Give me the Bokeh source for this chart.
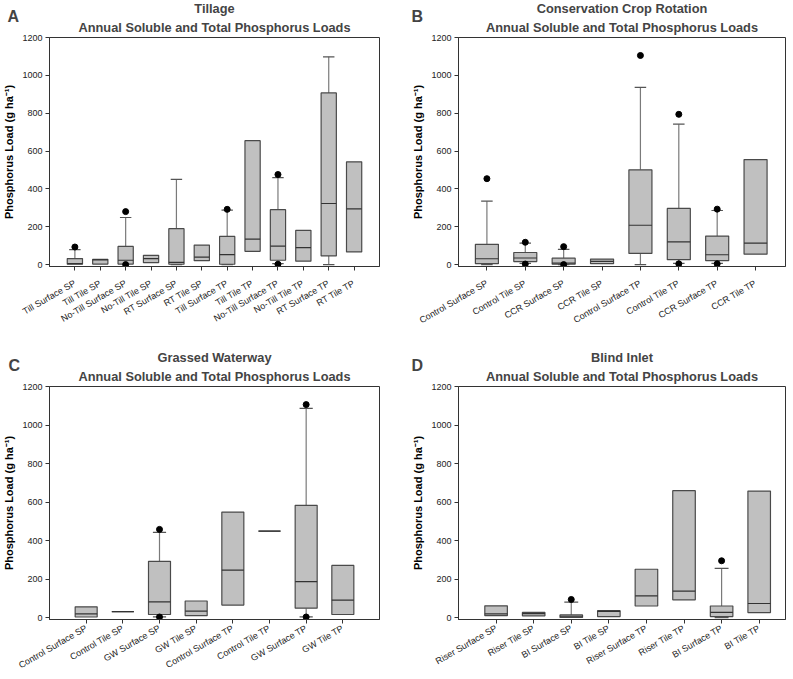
import math
from bokeh.plotting import figure
from bokeh.models import Range1d, FixedTicker, ColumnDataSource, Title
from bokeh.layouts import column, row
from bokeh.embed import file_html
from bokeh.resources import INLINE

# ---------------- data ----------------
A_cats = ["Till Surface SP", "Till Tile SP", "No-Till Surface SP", "No-Till Tile SP",
          "RT Surface SP", "RT Tile SP", "Till Surface TP", "Till Tile TP",
          "No-Till Surface TP", "No-Till Tile TP", "RT Surface TP", "RT Tile TP"]
A_q1 = [2, 3, 3, 10, 2, 21, 2, 70, 23, 18, 46, 67]
A_med = [5, 25, 23, 32, 12, 40, 53, 135, 98, 90, 323, 295]
A_q3 = [32, 28, 96, 49, 190, 103, 149, 655, 290, 181, 907, 543]
A_wlo = [None, None, None, None, 0, None, 0, None, 5, None, 0, None]
A_whi = [79, None, 249, None, 450, None, 288, None, 460, None, 1098, None]
A_out_cat = ["Till Surface SP", "No-Till Surface SP", "No-Till Surface SP",
             "Till Surface TP", "No-Till Surface TP", "No-Till Surface TP"]
A_out_val = [93, 280, 0, 292, 476, 2]

B_cats = ["Control Surface SP", "Control Tile SP", "CCR Surface SP", "CCR Tile SP",
          "Control Surface TP", "Control Tile TP", "CCR Surface TP", "CCR Tile TP"]
B_q1 = [5, 16, 2, 5, 59, 26, 21, 55]
B_med = [31, 35, 8, 17, 208, 120, 52, 113]
B_q3 = [107, 64, 34, 29, 501, 297, 151, 555]
B_wlo = [0, 6, 0, None, 0, 6, 6, None]
B_whi = [335, 113, 81, None, 936, 742, 286, None]
B_out_cat = ["Control Surface SP", "Control Tile SP", "Control Tile SP", "CCR Surface SP",
             "CCR Surface SP", "Control Surface TP", "Control Tile TP", "Control Tile TP",
             "CCR Surface TP", "CCR Surface TP"]
B_out_val = [454, 118, 3, 95, 0, 1105, 794, 4, 293, 4]

C_cats = ["Control Surface SP", "Control Tile SP", "GW Surface SP", "GW Tile SP",
          "Control Surface TP", "Control Tile TP", "GW Surface TP", "GW Tile TP"]
C_q1 = [3, 31, 16, 10, 65, 449, 49, 16]
C_med = [19, 31, 82, 33, 246, 449, 187, 91]
C_q3 = [56, 31, 292, 86, 548, 449, 583, 271]
C_wlo = [None, None, 4, None, None, None, 4, None]
C_whi = [None, None, 442, None, None, None, 1086, None]
C_out_cat = ["GW Surface SP", "GW Surface SP", "GW Surface TP", "GW Surface TP"]
C_out_val = [458, 3, 1106, 3]

D_cats = ["Riser Surface SP", "Riser Tile SP", "BI Surface SP", "BI Tile SP",
          "Riser Surface TP", "Riser Tile TP", "BI Surface TP", "BI Tile TP"]
D_q1 = [10, 9, 1, 5, 60, 92, 5, 26]
D_med = [19, 20, 7, 32, 113, 137, 27, 73]
D_q3 = [61, 27, 14, 36, 251, 659, 60, 657]
D_wlo = [None, None, None, None, None, None, 0, None]
D_whi = [None, None, 80, None, None, None, 256, None]
D_out_cat = ["BI Surface SP", "BI Surface TP"]
D_out_val = [94, 295]

Y_TICKS = [0, 200, 400, 600, 800, 1000, 1200]
SUBTITLE = "Annual Soluble and Total Phosphorus Loads"
YLABEL = "Phosphorus Load (g ha\u207b\u00b9)"

FONT = "Liberation Sans"
BOX_W = 0.6


def make_panel(letter, name, cats, q1, med, q3, wlo, whi, out_cat, out_val,
               xr, frame_w, frame_h, bl, br, bb, cap, lab_standoff,
               sub_so, name_so, letter_so, letter_off):
    p = figure(frame_width=frame_w, frame_height=frame_h,
               x_range=Range1d(*xr), y_range=Range1d(-10, 1200),
               output_backend="svg", toolbar_location=None,
               min_border_left=bl, min_border_right=br,
               min_border_top=0, min_border_bottom=bb)
    xs = list(range(1, len(cats) + 1))
    pos = {c: i + 1 for i, c in enumerate(cats)}

    # whiskers and caps
    wx, wy0, wy1 = [], [], []
    cx0, cx1, cy = [], [], []
    for x, lo, hi, a, b in zip(xs, wlo, whi, q1, q3):
        if hi is not None:
            wx.append(x); wy0.append(b); wy1.append(hi)
            cx0.append(x - cap / 2); cx1.append(x + cap / 2); cy.append(hi)
        if lo is not None:
            wx.append(x); wy0.append(a); wy1.append(lo)
            cx0.append(x - cap / 2); cx1.append(x + cap / 2); cy.append(lo)
    p.segment(x0=wx, y0=wy0, x1=wx, y1=wy1, line_color="#7a7a7a", line_width=1.2)
    p.segment(x0=cx0, y0=cy, x1=cx1, y1=cy, line_color="#555555", line_width=1.2)

    src = ColumnDataSource(dict(
        left=[x - BOX_W / 2 for x in xs], right=[x + BOX_W / 2 for x in xs],
        q1=q1, q3=q3, med=med))
    p.quad(left="left", right="right", bottom="q1", top="q3", source=src,
           fill_color="#c0c0c0", line_color="#4a4a4a", line_width=1.2)
    p.segment(x0="left", y0="med", x1="right", y1="med", source=src,
              line_color="#333333", line_width=1.2)

    p.scatter(x=[pos[c] for c in out_cat], y=out_val, size=6,
              fill_color="black", line_color="black")

    # axes
    p.xaxis.ticker = FixedTicker(ticks=xs)
    p.xaxis.major_label_overrides = {x: c for x, c in zip(xs, cats)}
    p.xaxis.major_label_orientation = math.pi / 6
    p.yaxis.ticker = FixedTicker(ticks=Y_TICKS)
    for ax in (p.xaxis, p.yaxis):
        ax.minor_tick_line_color = None
        ax.major_tick_out = 4
        ax.major_tick_in = 0
        ax.axis_line_color = "#333333"
        ax.major_tick_line_color = "#333333"
        ax.major_label_text_font = FONT
        ax.major_label_text_font_size = "9px"
        ax.major_label_text_color = "#222222"
        ax.major_label_standoff = 3
    p.xaxis.major_label_standoff = lab_standoff
    p.yaxis.axis_label = YLABEL
    p.yaxis.axis_label_text_font = FONT
    p.yaxis.axis_label_text_font_size = "11px"
    p.yaxis.axis_label_text_font_style = "bold"
    p.yaxis.axis_label_text_color = "black"
    p.yaxis.axis_label_standoff = 4
    p.xgrid.visible = False
    p.ygrid.visible = False
    p.outline_line_color = "#333333"
    p.outline_line_alpha = 1.0

    # stacked titles: subtitle (closest to frame), panel letter, panel name
    p.add_layout(Title(text=SUBTITLE, align="center", text_font=FONT,
                       text_font_size="12.8px", text_font_style="bold",
                       standoff=sub_so), "above")
    p.add_layout(Title(text=letter, align="left", offset=letter_off, text_font=FONT,
                       text_font_size="16px", text_font_style="bold",
                       standoff=letter_so), "above")
    p.add_layout(Title(text=name, align="center", text_font=FONT,
                       text_font_size="12.8px", text_font_style="bold",
                       standoff=name_so), "above")
    return p


pA = make_panel("A", "Tillage", A_cats, A_q1, A_med, A_q3, A_wlo, A_whi,
                A_out_cat, A_out_val, (0, 13), 330, 229, 42, 30, 83, 0.45, 12,
                5, -1.6, -19, -42)
pB = make_panel("B", "Conservation Crop Rotation", B_cats, B_q1, B_med, B_q3, B_wlo, B_whi,
                B_out_cat, B_out_val, (0.26, 8.78), 327, 229, 45, 4, 83, 0.3, 12,
                5, -1.6, -19, -47)
pC = make_panel("C", "Grassed Waterway", C_cats, C_q1, C_med, C_q3, C_wlo, C_whi,
                C_out_cat, C_out_val, (0, 9), 330, 233, 42, 30, 52, 0.36, 4,
                5, -1.6, -19, -41)
pD = make_panel("D", "Blind Inlet", D_cats, D_q1, D_med, D_q3, D_wlo, D_whi,
                D_out_cat, D_out_val, (0, 8.7), 327, 233, 45, 4, 52, 0.37, 4,
                5, -1.6, -19, -47)

layout = column(row(pA, pB, spacing=0), row(pC, pD, spacing=0), spacing=0)
open("out.html", "w").write(file_html(layout, INLINE))
